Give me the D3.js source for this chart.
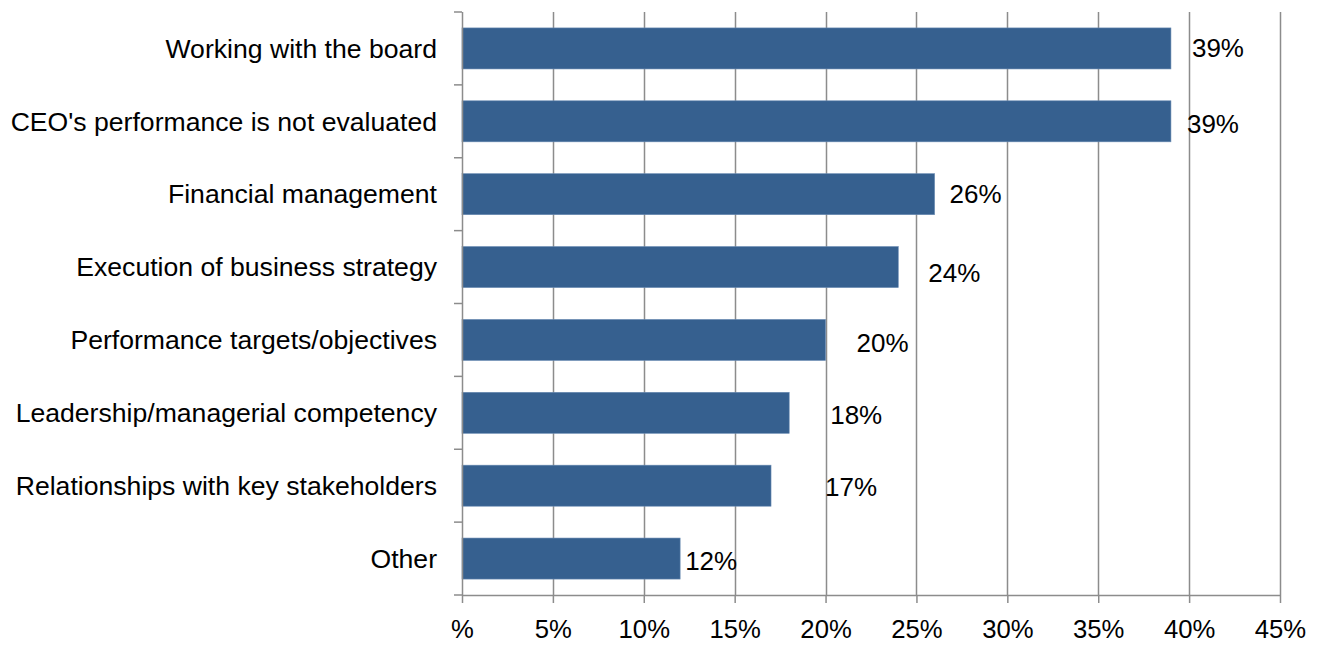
<!DOCTYPE html>
<html>
<head>
<meta charset="utf-8">
<script src="https://cdn.jsdelivr.net/npm/d3@7/dist/d3.min.js"></script>
<style>
  html, body { margin: 0; padding: 0; background: #fff; }
  svg { display: block; font-family: "Liberation Sans", Arial, sans-serif; }
</style>
</head>
<body>
<svg id="chart" width="1319" height="648"></svg>
<script>
// Reasons given for CEO turnover issues (share of respondents)
const categories = [
  "Working with the board",
  "CEO's performance is not evaluated",
  "Financial management",
  "Execution of business strategy",
  "Performance targets/objectives",
  "Leadership/managerial competency",
  "Relationships with key stakeholders",
  "Other"
];
const values = [39, 39, 26, 24, 20, 18, 17, 12];
const valueLabels = ["39%", "39%", "26%", "24%", "20%", "18%", "17%", "12%"];
const tickValues = [0, 5, 10, 15, 20, 25, 30, 35, 40, 45];
const tickLabels = ["%", "5%", "10%", "15%", "20%", "25%", "30%", "35%", "40%", "45%"];

// Hand-placed data label nudges (px) relative to the end of each bar
const labelDx = [21, 16, 15, 30, 31, 41, 54, 5];
const labelDy = [-1, 3, 0, 6, 3, 2, 1, 2];

const svg = d3.select("#chart");
const margin = { left: 462, right: 39, top: 12, bottom: 53 };
const W = 1319, H = 648;
const innerW = W - margin.left - margin.right;
const innerH = H - margin.top - margin.bottom;

const x = d3.scaleLinear().domain([0, 45]).range([0, innerW]);
const y = d3.scaleBand().domain(categories).range([0, innerH]).paddingInner(0.437).paddingOuter(0.2185);

const g = svg.append("g").attr("transform", `translate(${margin.left},${margin.top})`);
const gridColor = "#8c8c8c";

// vertical gridlines
g.selectAll("line.grid")
  .data(tickValues.filter(d => d > 0))
  .join("line")
  .attr("class", "grid")
  .attr("x1", d => Math.round(x(d)) + 0.5)
  .attr("x2", d => Math.round(x(d)) + 0.5)
  .attr("y1", 0)
  .attr("y2", innerH)
  .attr("stroke", gridColor)
  .attr("stroke-width", 1.5);

// bars
g.selectAll("rect.bar")
  .data(values)
  .join("rect")
  .attr("class", "bar")
  .attr("x", 0)
  .attr("y", (d, i) => y(categories[i]))
  .attr("width", d => x(d))
  .attr("height", y.bandwidth())
  .attr("fill", "#36608f")
  .attr("stroke", "#6a8bb3")
  .attr("stroke-width", 0.6);

// bottom axis
const xAxis = d3.axisBottom(x)
  .tickValues(tickValues)
  .tickFormat((d, i) => tickLabels[i])
  .tickSizeInner(8)
  .tickSizeOuter(0)
  .tickPadding(17);
const gx = g.append("g").attr("transform", `translate(0,${innerH})`).call(xAxis);
gx.select(".domain").attr("stroke", gridColor).attr("stroke-width", 1.5);
gx.selectAll(".tick line").attr("stroke", gridColor).attr("stroke-width", 1.5);
gx.selectAll(".tick text").attr("font-size", 25.7).attr("fill", "#000")
  .attr("font-family", "'Liberation Sans', Arial, sans-serif");

// left axis: category boundary ticks
const boundaries = d3.range(categories.length + 1).map(i => i * innerH / categories.length);
g.append("line")
  .attr("x1", 0.5).attr("x2", 0.5)
  .attr("y1", 0).attr("y2", innerH)
  .attr("stroke", gridColor).attr("stroke-width", 1.5);
g.selectAll("line.ytick")
  .data(boundaries)
  .join("line")
  .attr("class", "ytick")
  .attr("x1", -8).attr("x2", 0)
  .attr("y1", d => d).attr("y2", d => d)
  .attr("stroke", gridColor).attr("stroke-width", 1.5);

// category labels
g.selectAll("text.cat")
  .data(categories)
  .join("text")
  .attr("class", "cat")
  .attr("x", -25)
  .attr("y", d => y(d) + y.bandwidth() / 2)
  .attr("dy", "0.35em")
  .attr("text-anchor", "end")
  .attr("font-size", 26.6)
  .attr("fill", "#000")
  .text(d => d);

// value labels
g.selectAll("text.val")
  .data(values)
  .join("text")
  .attr("class", "val")
  .attr("x", (d, i) => x(d) + labelDx[i])
  .attr("y", (d, i) => y(categories[i]) + y.bandwidth() / 2 + labelDy[i])
  .attr("dy", "0.35em")
  .attr("font-size", 26)
  .attr("fill", "#000")
  .text((d, i) => valueLabels[i]);
</script>
</body>
</html>
